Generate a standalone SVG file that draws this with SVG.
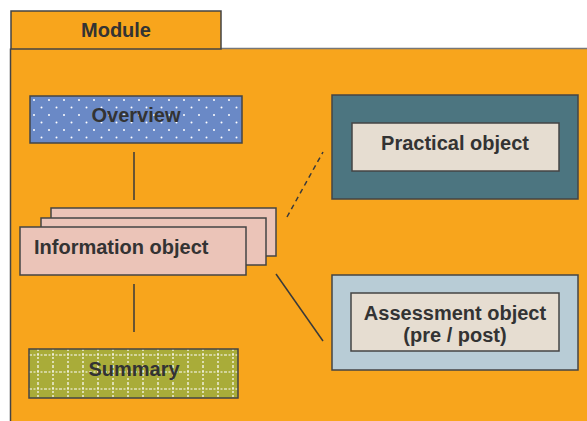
<svg xmlns="http://www.w3.org/2000/svg" width="587" height="421" viewBox="0 0 587 421">
<style>
.t{font-family:"Liberation Sans",Arial,sans-serif;font-weight:bold;font-size:20px;fill:#333333}
.b{stroke:#444444;stroke-width:1.5}
.ln{stroke:#3a3a3a;stroke-width:1.5;fill:none}
</style>
<defs>
<pattern id="dots" width="15" height="15" patternUnits="userSpaceOnUse" x="30" y="96">
<rect width="15" height="15" fill="#6A89C6"/>
<circle cx="4" cy="4" r="1" fill="#ffffff"/>
<circle cx="11.5" cy="11.5" r="1" fill="#ffffff"/>
</pattern>
<pattern id="grid" width="15" height="17" patternUnits="userSpaceOnUse" x="30" y="349">
<rect width="15" height="17" fill="#A9AC39"/>
<line x1="8" y1="0" x2="8" y2="17" stroke="#ffffff" stroke-width="1.2" stroke-dasharray="2,2"/>
<line x1="0" y1="6" x2="15" y2="6" stroke="#ffffff" stroke-width="1.2" stroke-dasharray="2,1.5"/>
</pattern>
</defs>
<rect x="0" y="0" width="587" height="421" fill="#ffffff"/>
<g id="module">
<rect x="10.5" y="48.5" width="577" height="373" fill="#F8A51C"/>
<line x1="221" y1="48.5" x2="587" y2="48.5" stroke="#777777" stroke-width="1.5"/>
<line x1="10.5" y1="48.5" x2="10.5" y2="421" stroke="#444444" stroke-width="1.5"/>
<rect x="11" y="11" width="210" height="38" fill="#F8A51C" class="b"/>
<text x="116" y="37" text-anchor="middle" class="t">Module</text>
</g>
<g id="connectors">
<line class="ln" x1="134" y1="152" x2="134" y2="200"/>
<line class="ln" x1="134" y1="284" x2="134" y2="332"/>
<line class="ln" x1="287" y1="217" x2="323" y2="152" stroke-dasharray="5,4"/>
<line class="ln" x1="276" y1="274" x2="323" y2="341"/>
</g>
<g id="overview">
<rect x="30" y="96" width="212" height="47" fill="url(#dots)" class="b"/>
<text x="136" y="122" text-anchor="middle" class="t">Overview</text>
</g>
<g id="information">
<rect x="51" y="208" width="225" height="48" fill="#EBC4B8" class="b"/>
<rect x="41" y="218" width="225" height="47" fill="#EBC4B8" class="b"/>
<rect x="20" y="227" width="226" height="48" fill="#EBC4B8" class="b"/>
<text x="34" y="254" class="t">Information object</text>
</g>
<g id="summary">
<rect x="29" y="349" width="209" height="49" fill="url(#grid)" class="b"/>
<text x="134" y="376" text-anchor="middle" class="t">Summary</text>
</g>
<g id="practical">
<rect x="332" y="95" width="246" height="104" fill="#4C7580" class="b"/>
<rect x="352" y="123" width="207" height="48" fill="#E6DDD1" class="b"/>
<text x="455" y="150" text-anchor="middle" class="t">Practical object</text>
</g>
<g id="assessment">
<rect x="332" y="275" width="246" height="95" fill="#B8CCD6" class="b"/>
<rect x="351" y="293" width="208" height="58" fill="#E6DDD1" class="b"/>
<text x="455" y="320" text-anchor="middle" class="t">Assessment object</text>
<text x="455" y="342" text-anchor="middle" class="t">(pre / post)</text>
</g>
</svg>
